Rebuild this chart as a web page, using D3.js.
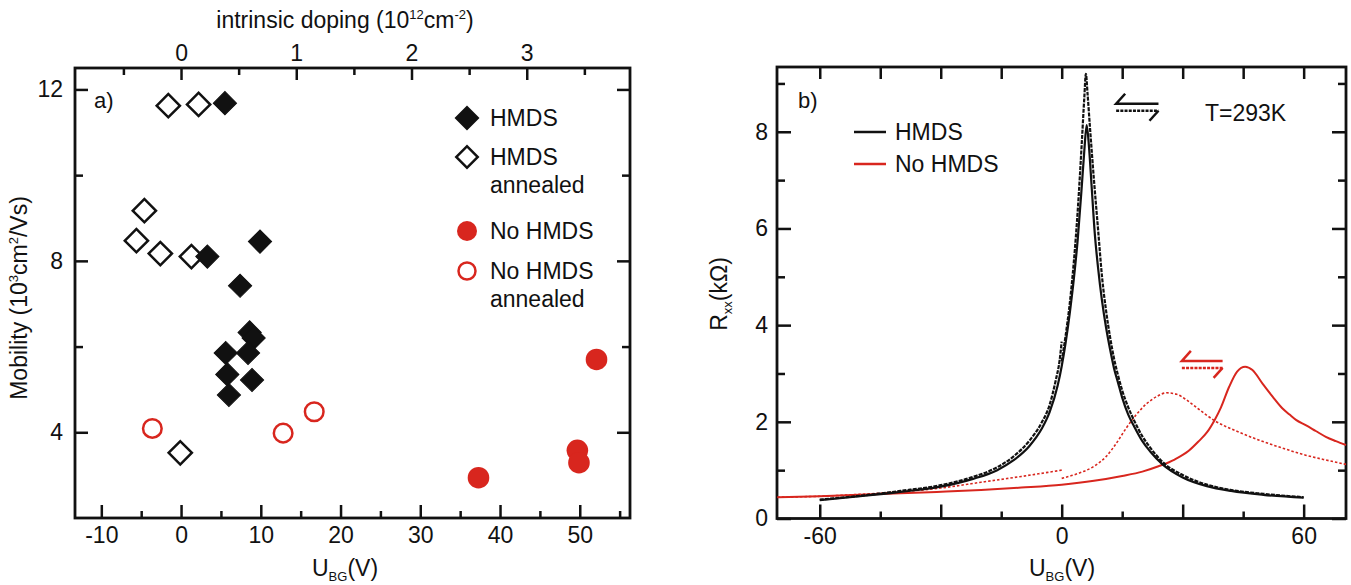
<!DOCTYPE html>
<html>
<head>
<meta charset="utf-8">
<script src="https://cdn.jsdelivr.net/npm/d3@7"></script>
<style>
  body { margin: 0; background: #fff; }
  svg text { font-family: "Liberation Sans", Arial, sans-serif; fill: #111; }
</style>
</head>
<body>
<div id="chart"></div>
<script>

// Figure size
const width = 1351;
const height = 585;
const red = "#d8261e";

/* ---------- data, panel a (mobility vs U_BG) ---------- */

const hmdsV   = [5.5, 3.3, 9.9, 7.4, 8.6, 9.1, 5.6, 8.4, 5.8, 8.9, 6.0];
const hmdsMob = [11.68, 8.10, 8.45, 7.42, 6.33, 6.20, 5.85, 5.85, 5.35, 5.22, 4.87];

const hmdsAnnV   = [-1.6, 2.2, -4.6, -5.6, -2.6, 1.3, -0.1];
const hmdsAnnMob = [11.62, 11.65, 9.17, 8.47, 8.17, 8.10, 3.52];

const noHmdsV   = [37.3, 49.7, 49.9, 52.1];
const noHmdsMob = [2.94, 3.58, 3.29, 5.70];

const noHmdsAnnV   = [-3.6, 12.8, 16.7];
const noHmdsAnnMob = [4.09, 3.98, 4.48];

// axis ticks, panel a
const aBottomMajor = [-10, 0, 10, 20, 30, 40, 50];
const aBottomMinor = [-5, 5, 15, 25, 35, 45, 55];
const aTopMajor = [0, 1, 2, 3];
const aTopMinor = [-0.5, 0.5, 1.5, 2.5, 3.5];
const aLeftMajor = [4, 8, 12];
const aLeftMinor = [6, 10];
const legendA = ["HMDS", "HMDS|annealed", "No HMDS", "No HMDS|annealed"];

/* ---------- data, panel b (Rxx vs U_BG) ---------- */

// HMDS, sweep with the lower peak (solid)
const blackSolidV = [-60, -50, -40, -30, -22, -16, -12, -8, -5, -3, -1, 0, 1, 2, 3, 4, 5, 5.6, 6.2, 6.8, 7.4, 8.2, 9, 10, 11, 12, 13, 14, 15, 16.5, 18, 20, 22, 25, 30, 36, 42, 50, 60];
const blackSolidR = [0.38, 0.46, 0.55, 0.66, 0.82, 1.0, 1.2, 1.5, 1.85, 2.2, 2.75, 3.15, 3.65, 4.25, 4.95, 5.8, 6.9, 7.6, 8.14, 7.65, 6.9, 5.9, 5.2, 4.5, 3.95, 3.5, 3.1, 2.8, 2.5, 2.15, 1.9, 1.6, 1.38, 1.12, 0.85, 0.67, 0.57, 0.49, 0.43];

// HMDS, other sweep (dashed): 0 -> 60 part and -60 -> 0 part
const blackDashUpV = [0, 1, 2, 3, 4, 5, 5.6, 6.0, 6.4, 7, 8, 9, 10, 11, 12, 13, 14, 15, 16.5, 18, 20, 22, 25, 30, 36, 42, 50, 60];
const blackDashUpR = [3.25, 3.8, 4.45, 5.3, 6.4, 7.8, 8.7, 9.2, 8.8, 8.1, 7.0, 6.0, 5.0, 4.3, 3.75, 3.3, 2.95, 2.65, 2.3, 2.02, 1.7, 1.46, 1.17, 0.9, 0.7, 0.59, 0.51, 0.44];
const blackDashDownV = [-60, -50, -40, -30, -22, -16, -12, -8, -5, -3, -1.5, -0.5, 0];
const blackDashDownR = [0.39, 0.47, 0.57, 0.69, 0.86, 1.06, 1.28, 1.61, 1.98, 2.35, 2.85, 3.28, 3.66];

// No HMDS, solid sweep
const redSolidV = [-70.5, -60, -50, -40, -31, -20, -10, 0, 8, 15, 20, 24, 28, 31.5, 34, 36, 38, 39.5, 41.5, 43.5, 45.5, 47.3, 49.8, 52.3, 54.7, 56.5, 58.1, 60.5, 63, 65.5, 68, 70.5];
const redSolidR = [0.44, 0.46, 0.49, 0.52, 0.55, 0.59, 0.64, 0.70, 0.78, 0.88, 0.97, 1.08, 1.22, 1.40, 1.60, 1.78, 2.05, 2.3, 2.72, 3.04, 3.14, 3.07, 2.79, 2.52, 2.28, 2.15, 2.04, 1.93, 1.81, 1.69, 1.60, 1.52];

// No HMDS, dotted sweep (two pieces, jump at 0 V)
const redDotLeftV = [-70.5, -60, -50, -40, -30, -20, -10, 0];
const redDotLeftR = [0.44, 0.46, 0.50, 0.55, 0.63, 0.75, 0.87, 1.0];
const redDotRightV = [0, 4, 8, 11, 13.5, 16, 18.5, 21, 23.5, 26, 28.5, 31, 34, 38, 43, 49, 55, 60.5, 65.5, 70.5];
const redDotRightR = [0.83, 0.93, 1.08, 1.28, 1.55, 1.87, 2.15, 2.37, 2.52, 2.6, 2.57, 2.45, 2.26, 2.02, 1.82, 1.62, 1.45, 1.31, 1.21, 1.12];

// axis ticks, panel b
const bBottomMajor = [-60, -30, 0, 30, 60];
const bBottomMinor = [-45, -15, 15, 45];
const bBottomLabels = [-60, 0, 60];
const bLeftMajor = [0, 2, 4, 6, 8];
const bLeftMinor = [1, 3, 5, 7, 9];
const legendB = ["HMDS", "No HMDS"];

// sweep direction marks (V start, V end, R of upper line)
const sweepMarks = [
  {v0: 13.5, v1: 24, r: 8.58, color: "#111"},
  {v0: 29.8, v1: 39.9, r: 3.26, color: red}
];

/* ---------- svg ---------- */

const svg = d3.select("#chart")
  .append("svg")
  .attr("width", width)
  .attr("height", height);

// draws ticks of an axis, ticks pointing into the plot
function ticks(g, axis, vals, len, labels, pad) {
  g.call(axis.tickValues(vals)
      .tickSizeInner(-len)
      .tickSizeOuter(0)
      .tickPadding(pad)
      .tickFormat(labels ? (d => labels.includes(d) ? String(d) : "") : ""));
  g.select(".domain").remove();
  g.selectAll("line").attr("stroke", "#111").attr("stroke-width", 2.5);
  g.selectAll("text").attr("font-size", 23).attr("font-family", null).attr("fill", "#111");
}

/* ---------- panel a ---------- */

const xA = d3.scaleLinear().domain([-13.3, 56.3]).range([75, 630]);
const xTopA = d3.scaleLinear().domain([-0.92, 3.896]).range([75, 630]);
const yA = d3.scaleLinear().domain([2, 12.5]).range([518, 68]);

const pa = svg.append("g");

ticks(pa.append("g").attr("transform", "translate(0,518)"), d3.axisBottom(xA), aBottomMajor, 13, aBottomMajor, 9);
ticks(pa.append("g").attr("transform", "translate(0,518)"), d3.axisBottom(xA), aBottomMinor, 7, null, 9);
ticks(pa.append("g").attr("transform", "translate(0,68)"), d3.axisTop(xTopA), aTopMajor, 12, aTopMajor, 7);
ticks(pa.append("g").attr("transform", "translate(0,68)"), d3.axisTop(xTopA), aTopMinor, 7, null, 7);
ticks(pa.append("g").attr("transform", "translate(75,0)"), d3.axisLeft(yA), aLeftMajor, 13, aLeftMajor, 12);
ticks(pa.append("g").attr("transform", "translate(75,0)"), d3.axisLeft(yA), aLeftMinor, 8, null, 12);
ticks(pa.append("g").attr("transform", "translate(630,0)"), d3.axisRight(yA), aLeftMajor, 13, null, 12);
ticks(pa.append("g").attr("transform", "translate(630,0)"), d3.axisRight(yA), aLeftMinor, 8, null, 12);

// frame
pa.append("rect")
  .attr("x", 75).attr("y", 68).attr("width", 555).attr("height", 450)
  .attr("fill", "none").attr("stroke", "#111").attr("stroke-width", 2.8);

// markers
const diamond = d3.symbol(d3.symbolSquare, 270);

pa.selectAll(".hmdsAnn")
  .data(d3.range(hmdsAnnV.length))
  .enter().append("path")
    .attr("d", diamond)
    .attr("transform", i => `translate(${xA(hmdsAnnV[i])},${yA(hmdsAnnMob[i])}) rotate(45)`)
    .attr("fill", "#fff").attr("stroke", "#111").attr("stroke-width", 2.5);

pa.selectAll(".hmds")
  .data(d3.range(hmdsV.length))
  .enter().append("path")
    .attr("d", diamond)
    .attr("transform", i => `translate(${xA(hmdsV[i])},${yA(hmdsMob[i])}) rotate(45)`)
    .attr("fill", "#111").attr("stroke", "#111").attr("stroke-width", 1);

pa.selectAll(".noHmdsAnn")
  .data(d3.range(noHmdsAnnV.length))
  .enter().append("circle")
    .attr("cx", i => xA(noHmdsAnnV[i]))
    .attr("cy", i => yA(noHmdsAnnMob[i]))
    .attr("r", 9.3)
    .attr("fill", "#fff").attr("stroke", red).attr("stroke-width", 2.5);

pa.selectAll(".noHmds")
  .data(d3.range(noHmdsV.length))
  .enter().append("circle")
    .attr("cx", i => xA(noHmdsV[i]))
    .attr("cy", i => yA(noHmdsMob[i]))
    .attr("r", 10.8)
    .attr("fill", red);

// legend a
const legAy = [118, 157, 231, 271];
legendA.forEach((name, i) => {
  const y = legAy[i];
  if (i < 2) {
    pa.append("path").attr("d", d3.symbol(d3.symbolSquare, 230))
      .attr("transform", `translate(467,${y}) rotate(45)`)
      .attr("fill", i === 0 ? "#111" : "#fff")
      .attr("stroke", "#111").attr("stroke-width", 2.5);
  } else {
    pa.append("circle").attr("cx", 467).attr("cy", y)
      .attr("r", i === 2 ? 10 : 8.5)
      .attr("fill", i === 2 ? red : "#fff")
      .attr("stroke", red).attr("stroke-width", i === 2 ? 0 : 2.5);
  }
  name.split("|").forEach((line, j) => {
    pa.append("text").attr("x", 490).attr("y", y + 8 + j * 28)
      .attr("font-size", 23).text(line);
  });
});

pa.append("text").attr("x", 94).attr("y", 108).attr("font-size", 22).text("a)");

// axis titles a
const tA = pa.append("text").attr("x", 345).attr("y", 576).attr("font-size", 23).attr("text-anchor", "middle");
tA.append("tspan").text("U");
tA.append("tspan").attr("font-size", 13).attr("dy", 5).text("BG");
tA.append("tspan").attr("dy", -5).text("(V)");

const tTop = pa.append("text").attr("x", 345).attr("y", 28).attr("font-size", 23).attr("text-anchor", "middle");
tTop.append("tspan").text("intrinsic doping (10");
tTop.append("tspan").attr("font-size", 13).attr("dy", -9).text("12");
tTop.append("tspan").attr("dy", 9).text("cm");
tTop.append("tspan").attr("font-size", 13).attr("dy", -9).text("-2");
tTop.append("tspan").attr("dy", 9).text(")");

const tMob = pa.append("text").attr("transform", "translate(27,298) rotate(-90)").attr("font-size", 23).attr("text-anchor", "middle");
tMob.append("tspan").text("Mobility (10");
tMob.append("tspan").attr("font-size", 13).attr("dy", -9).text("3");
tMob.append("tspan").attr("dy", 9).text("cm");
tMob.append("tspan").attr("font-size", 13).attr("dy", -9).text("2");
tMob.append("tspan").attr("dy", 9).text("/Vs)");

/* ---------- panel b ---------- */

const xB = d3.scaleLinear().domain([-70.6, 70.5]).range([777, 1346]);
const yB = d3.scaleLinear().domain([0, 9.34]).range([518.5, 67]);

const pb = svg.append("g");

ticks(pb.append("g").attr("transform", "translate(0,518.5)"), d3.axisBottom(xB), bBottomMajor, 14, bBottomLabels, 9);
ticks(pb.append("g").attr("transform", "translate(0,518.5)"), d3.axisBottom(xB), bBottomMinor, 7, null, 9);
ticks(pb.append("g").attr("transform", "translate(0,67)"), d3.axisTop(xB), bBottomMajor.concat(bBottomMinor), 12, null, 7);
ticks(pb.append("g").attr("transform", "translate(777,0)"), d3.axisLeft(yB), bLeftMajor, 14, bLeftMajor, 9);
ticks(pb.append("g").attr("transform", "translate(777,0)"), d3.axisLeft(yB), bLeftMinor, 8, null, 9);
ticks(pb.append("g").attr("transform", "translate(1346,0)"), d3.axisRight(yB), bLeftMajor, 14, null, 9);
ticks(pb.append("g").attr("transform", "translate(1346,0)"), d3.axisRight(yB), bLeftMinor, 8, null, 9);

pb.append("rect")
  .attr("x", 777).attr("y", 67).attr("width", 569).attr("height", 451.5)
  .attr("fill", "none").attr("stroke", "#111").attr("stroke-width", 2.8);

const line = d3.line()
  .x(d => xB(d[0]))
  .y(d => yB(d[1]))
  .curve(d3.curveMonotoneX);

function curve(vs, rs, color, w, dash) {
  pb.append("path")
    .datum(d3.zip(vs, rs))
    .attr("d", line)
    .attr("fill", "none")
    .attr("stroke", color)
    .attr("stroke-width", w)
    .attr("stroke-dasharray", dash);
}

curve(redDotLeftV, redDotLeftR, red, 1.6, "2.5,2");
curve(redDotRightV, redDotRightR, red, 1.6, "2.5,2");
curve(redSolidV, redSolidR, red, 2, null);
curve(blackDashDownV, blackDashDownR, "#111", 2.2, "4,1.2");
curve(blackDashUpV, blackDashUpR, "#111", 2.2, "4,1.2");
curve(blackSolidV, blackSolidR, "#111", 2.2, null);

// sweep direction marks
sweepMarks.forEach(m => {
  const x0 = xB(m.v0), x1 = xB(m.v1), y = yB(m.r);
  pb.append("path")
    .attr("d", `M${x1},${y}H${x0}l9,-10`)
    .attr("fill", "none").attr("stroke", m.color).attr("stroke-width", 2.5);
  pb.append("path")
    .attr("d", `M${x0},${y + 7}H${x1}`)
    .attr("fill", "none").attr("stroke", m.color).attr("stroke-width", 2.5)
    .attr("stroke-dasharray", "3,1.2");
  pb.append("path")
    .attr("d", `M${x1},${y + 7}l-9,10`)
    .attr("fill", "none").attr("stroke", m.color).attr("stroke-width", 2.5);
});

// legend b
legendB.forEach((name, i) => {
  const y = 132 + i * 32;
  pb.append("line").attr("x1", 854).attr("x2", 886).attr("y1", y).attr("y2", y)
    .attr("stroke", i === 0 ? "#111" : red).attr("stroke-width", 2.5);
  pb.append("text").attr("x", 895).attr("y", y + 8).attr("font-size", 23).text(name);
});

pb.append("text").attr("x", 798).attr("y", 108).attr("font-size", 22).text("b)");
pb.append("text").attr("x", 1205).attr("y", 121).attr("font-size", 23).text("T=293K");

const tB = pb.append("text").attr("x", 1062).attr("y", 576).attr("font-size", 23).attr("text-anchor", "middle");
tB.append("tspan").text("U");
tB.append("tspan").attr("font-size", 13).attr("dy", 5).text("BG");
tB.append("tspan").attr("dy", -5).text("(V)");

const tR = pb.append("text").attr("transform", "translate(727,294) rotate(-90)").attr("font-size", 23).attr("text-anchor", "middle");
tR.append("tspan").text("R");
tR.append("tspan").attr("font-size", 13).attr("dy", 5).text("xx");
tR.append("tspan").attr("dy", -5).text("(k\u03A9)");

</script>
</body>
</html>
